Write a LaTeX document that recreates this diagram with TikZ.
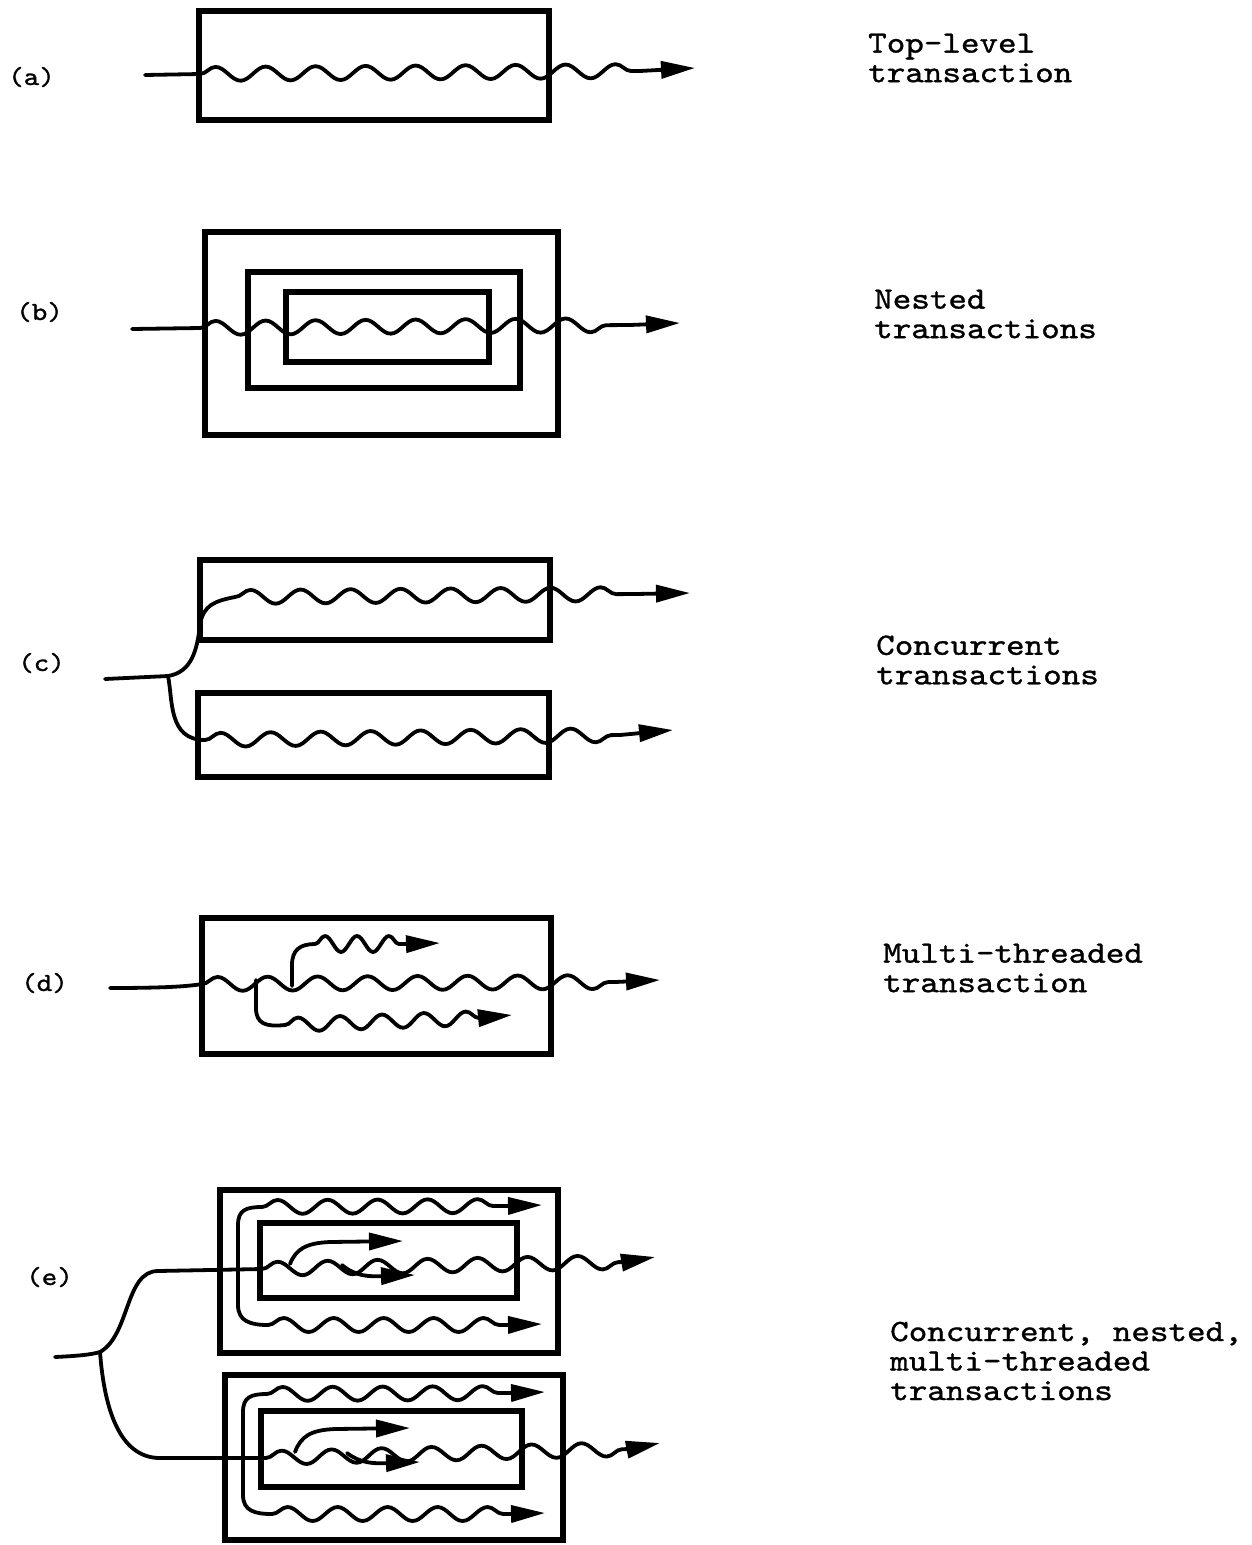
\documentclass[tikz,border=0pt]{standalone}
\usepackage{fontspec}
\newfontfamily\monofnt[Extension=.otf, FakeBold=1.1, FakeStretch=1.14]{lmmono10-regular}
\usetikzlibrary{arrows.meta,decorations.pathmorphing}
\tikzset{
  tbox/.style={draw, line width=6.5pt, inner sep=0pt, fill=none},
  thread/.style={line width=3.8pt, line cap=round, line join=round},
  arrthread/.style={thread, -{Triangle[length=34pt,width=17pt]}},
  wv/.style={decoration={snake, segment length=50pt, amplitude=7pt}},
  wvs/.style={decoration={snake, segment length=32pt, amplitude=8pt}},
  wvm/.style={decoration={snake, segment length=42pt, amplitude=7pt}},
  lbltext/.style={font=\monofnt\fontsize{26}{28}\selectfont, anchor=west, inner sep=0pt},
  captext/.style={font=\monofnt\fontsize{31}{29.5}\selectfont, anchor=west, align=left, inner sep=0pt}
}
\begin{document}
\begin{tikzpicture}[x=1pt,y=-1pt]
\useasboundingbox (0,0) rectangle (1251,1545);
\fill[white] (0,0) rectangle (1251,1545);

% ---------- (a) ----------
\node[lbltext] (la) at (8,77) {(a)};
\node[captext] (ta) at (868,58) {Top-level\\transaction};
\node[tbox, minimum width=350pt, minimum height=109pt] (A) at (374,65.5) {};
\coordinate (a0) at (145,75);
\coordinate (a1) at (200,74);
\coordinate (a2) at (640,71);
\coordinate (a3) at (695,68);
\draw[arrthread] (a0) -- (a1) decorate[wv]{ -- (a2)} -- (a3);

% ---------- (b) ----------
\node[lbltext] (lb) at (16,312) {(b)};
\node[captext] (tb) at (874,314) {Nested\\transactions};
\node[tbox, minimum width=353pt, minimum height=203pt] (B1) at (381.5,333.5) {};
\node[tbox, minimum width=272pt, minimum height=116pt] (B2) at (384,330) {};
\node[tbox, minimum width=203pt, minimum height=70pt] (B3) at (387.5,327) {};
\coordinate (b0) at (132,329);
\coordinate (b1) at (200,328);
\coordinate (b2) at (630,325);
\coordinate (b3) at (680,323);
\draw[arrthread] (b0) -- (b1) decorate[wv]{ -- (b2)} -- (b3);

% ---------- (c) ----------
\node[lbltext] (lc) at (18,663) {(c)};
\node[captext] (tc) at (876,660) {Concurrent\\transactions};
\node[tbox, minimum width=350pt, minimum height=80pt] (C1) at (375,600) {};
\node[tbox, minimum width=351pt, minimum height=84pt] (C2) at (373.5,735) {};
\coordinate (c0) at (105,679);
\coordinate (cf) at (168,676);
\coordinate (c1) at (235,597);
\coordinate (c2) at (635,594);
\coordinate (c3) at (690,593);
\coordinate (c4) at (205,740);
\coordinate (c5) at (620,735);
\coordinate (c6) at (673,730);
\draw[thread] (c0) -- (cf);
\draw[arrthread] (cf) .. controls (192,672) and (197,650) .. (200,625)
  .. controls (203,605) and (215,601) .. (c1) decorate[wv]{ -- (c2)} -- (c3);
\draw[arrthread] (cf) .. controls (173,700) and (168,740) .. (c4) decorate[wv]{ -- (c5)} -- (c6);

% ---------- (d) ----------
\node[lbltext] (ld) at (21,983) {(d)};
\node[captext] (td) at (883,968) {Multi-threaded\\transaction};
\node[tbox, minimum width=349pt, minimum height=136pt] (D) at (376.5,986) {};
\coordinate (d0) at (110,988);
\coordinate (d1) at (202,984);
\coordinate (d2) at (615,982);
\coordinate (d3) at (660,980);
\draw[arrthread] (d0) .. controls (170,988) and (190,986) .. (d1) decorate[wv]{ -- (d2)} -- (d3);
\coordinate (du0) at (292,986);
\coordinate (du1) at (315,944);
\coordinate (du2) at (410,944);
\coordinate (du3) at (440,943);
\draw[arrthread] (du0) -- (292,965) .. controls (292,950) and (300,944) .. (du1) decorate[wvs]{ -- (du2)} -- (du3);
\coordinate (dd0) at (256,980);
\coordinate (dd1) at (285,1025);
\coordinate (dd2) at (480,1018);
\coordinate (dd3) at (512,1015);
\draw[arrthread] (dd0) -- (256,1008) .. controls (256,1024) and (266,1027) .. (dd1) decorate[wvm]{ -- (dd2)} -- (dd3);

% ---------- (e) ----------
\node[lbltext] (le) at (26,1277) {(e)};
\node[captext] (te) at (890,1361) {Concurrent, nested,\\multi-threaded\\transactions};
\node[tbox, minimum width=338pt, minimum height=163pt] (E1) at (389,1271.5) {};
\node[tbox, minimum width=257pt, minimum height=75pt] (E1i) at (388.5,1260.5) {};
\node[tbox, minimum width=338pt, minimum height=165pt] (E2) at (394,1457.5) {};
\node[tbox, minimum width=261pt, minimum height=76pt] (E2i) at (391.5,1449) {};

\coordinate (e0) at (55,1357);
\coordinate (ef) at (100,1352);
\draw[thread] (e0) .. controls (75,1356) and (90,1355) .. (ef);
% upper group
\coordinate (eu1) at (262,1269);
\coordinate (eu2) at (625,1262);
\coordinate (eu3) at (655,1257);
\draw[arrthread] (ef) .. controls (130,1335) and (125,1271) .. (158,1271) -- (eu1)
  decorate[wv]{ -- (eu2)} -- (eu3);
\coordinate (ev) at (238,1269);
\draw[arrthread] (ev) -- (238,1225) .. controls (238,1210) and (246,1207) .. (262,1207)
  decorate[wv]{ -- (505,1206)} -- (542,1205);
\draw[arrthread] (ev) -- (238,1305) .. controls (238,1321) and (250,1325) .. (268,1325)
  decorate[wv]{ -- (505,1325)} -- (542,1324);
\coordinate (es1) at (290,1264);
\draw[arrthread] (es1) .. controls (296,1249) and (306,1243) .. (330,1242) -- (403,1241);
\coordinate (es2) at (342,1265);
\draw[arrthread] (es2) .. controls (355,1276) and (368,1277) .. (385,1276) -- (415,1275);
% lower group
\coordinate (el1) at (266,1458);
\coordinate (el2) at (630,1449);
\coordinate (el3) at (660,1443);
\draw[arrthread] (ef) .. controls (104,1405) and (118,1458) .. (160,1458) -- (el1)
  decorate[wv]{ -- (el2)} -- (el3);
\coordinate (evl) at (243,1458);
\draw[arrthread] (evl) -- (243,1412) .. controls (243,1397) and (251,1394) .. (267,1394)
  decorate[wv]{ -- (510,1393)} -- (545,1392);
\draw[arrthread] (evl) -- (243,1495) .. controls (243,1511) and (255,1514) .. (272,1514)
  decorate[wv]{ -- (510,1514)} -- (545,1513);
\coordinate (es3) at (295,1452);
\draw[arrthread] (es3) .. controls (301,1436) and (311,1430) .. (335,1429) -- (410,1428);
\coordinate (es4) at (347,1453);
\draw[arrthread] (es4) .. controls (360,1463) and (373,1464) .. (390,1463) -- (420,1462);
\end{tikzpicture}
\end{document}
